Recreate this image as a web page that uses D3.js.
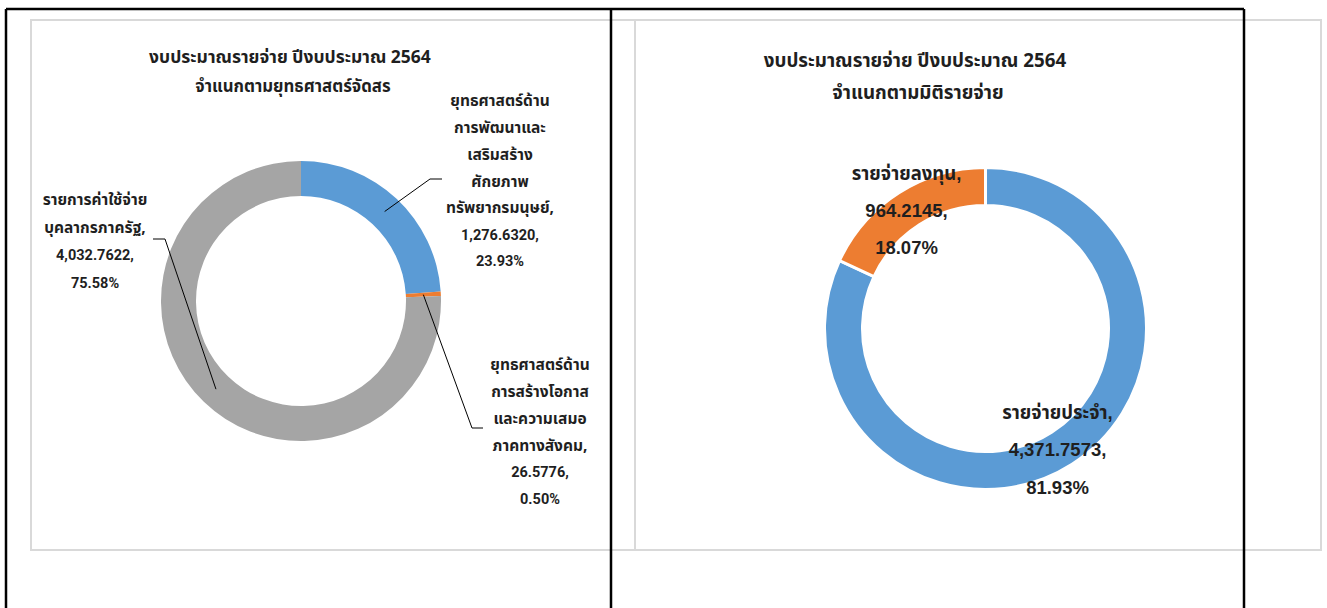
<!DOCTYPE html>
<html>
<head>
<meta charset="utf-8">
<script src="https://cdn.jsdelivr.net/npm/d3@7"></script>
<style>
  body { margin: 0; background: #fff; }
  svg { display: block; }
  text { font-weight: bold; fill: #1f1f1f; }
</style>
</head>
<body>
<div id="chart"></div>
<script>
// ข้อมูล: จำแนกตามยุทธศาสตร์จัดสรร
const strategyNames = [
  "ยุทธศาสตร์ด้านการพัฒนาและเสริมสร้างศักยภาพทรัพยากรมนุษย์",
  "ยุทธศาสตร์ด้านการสร้างโอกาสและความเสมอภาคทางสังคม",
  "รายการค่าใช้จ่ายบุคลากรภาครัฐ"
];
const strategyValues = [1276.6320, 26.5776, 4032.7622];
const strategyLabelLines = [
  ["ยุทธศาสตร์ด้าน", "การพัฒนาและ", "เสริมสร้าง", "ศักยภาพ", "ทรัพยากรมนุษย์,"],
  ["ยุทธศาสตร์ด้าน", "การสร้างโอกาส", "และความเสมอ", "ภาคทางสังคม,"],
  ["รายการค่าใช้จ่าย", "บุคลากรภาครัฐ,"]
];

// ข้อมูล: จำแนกตามมิติรายจ่าย
const dimensionNames = ["รายจ่ายประจำ", "รายจ่ายลงทุน"];
const dimensionValues = [4371.7573, 964.2145];

const titleLine1 = "งบประมาณรายจ่าย ปีงบประมาณ 2564";
const leftTitle2 = "จำแนกตามยุทธศาสตร์จัดสร";
const rightTitle2 = "จำแนกตามมิติรายจ่าย";

const colors = ["#5B9BD5", "#ED7D31", "#A5A5A5"];
const thaiFont = "Tahoma, 'Leelawadee UI', 'Noto Sans Thai', 'Noto Sans Thai UI', Garuda, Loma, 'Noto Sans', sans-serif";
const numFont = "Roboto, " + thaiFont;

const width = 1327, height = 608;
const svg = d3.select("#chart").append("svg")
  .attr("width", width)
  .attr("height", height);

// กรอบของแผนภูมิ
svg.append("rect").attr("x", 31).attr("y", 20).attr("width", 604).attr("height", 530)
  .attr("fill", "#fff").attr("stroke", "#d9d9d9").attr("stroke-width", 2);
svg.append("rect").attr("x", 635).attr("y", 20).attr("width", 686).attr("height", 530)
  .attr("fill", "#fff").attr("stroke", "#d9d9d9").attr("stroke-width", 2);

const fmtNum = d3.format(",.4f");
const fmtPct = d3.format(".2%");
const pie = d3.pie().sort(null).value(d => d);

// ----- แผนภูมิซ้าย -----
const L = svg.append("g").attr("transform", "translate(301,301)");
const lOuter = 140, lInner = 105;
const lArc = d3.arc().innerRadius(lInner).outerRadius(lOuter);
const lMid = d3.arc().innerRadius((lInner + lOuter) / 2).outerRadius((lInner + lOuter) / 2);
const lTotal = d3.sum(strategyValues);
const lPie = pie(strategyValues);

L.selectAll("path.slice")
  .data(lPie)
  .join("path")
  .attr("class", "slice")
  .attr("d", lArc)
  .attr("fill", (d, i) => colors[i]);

// ตำแหน่งป้ายกำกับ (เทียบกับจุดศูนย์กลาง)
const lLabelPos = [
  { x: 199, y: -200, lh: 26.7, elbow: [129, -122], end: [141, -122] },
  { x: 239, y: 64, lh: 26.7, elbow: [171, 127], end: [182, 127] },
  { x: -206, y: -101, lh: 27.5, elbow: [-136, -62], end: [-148, -62] }
];

lPie.forEach((d, i) => {
  const p = lLabelPos[i];
  const c = lMid.centroid(d);
  L.append("polyline")
    .attr("points", [c, p.elbow, p.end].map(q => q.join(",")).join(" "))
    .attr("fill", "none")
    .attr("stroke", "#000")
    .attr("stroke-width", 1);
  const thai = strategyLabelLines[i];
  const nums = [fmtNum(d.value) + ",", fmtPct(d.value / lTotal)];
  const t = L.append("text").attr("text-anchor", "middle");
  thai.concat(nums).forEach((s, k) => {
    t.append("tspan")
      .attr("x", p.x)
      .attr("y", p.y + k * p.lh)
      .attr("dy", "0.35em")
      .style("font-family", k < thai.length ? thaiFont : numFont)
      .style("font-size", k < thai.length ? "15.5px" : "14.5px")
      .text(s);
  });
});

svg.append("text")
  .attr("x", 290).attr("y", 57).attr("dy", "0.35em")
  .attr("text-anchor", "middle")
  .style("font-family", thaiFont).style("font-size", "17.5px")
  .text(titleLine1);
svg.append("text")
  .attr("x", 293).attr("y", 86).attr("dy", "0.35em")
  .attr("text-anchor", "middle")
  .style("font-family", thaiFont).style("font-size", "16.8px")
  .text(leftTitle2);

// ----- แผนภูมิขวา -----
const R = svg.append("g").attr("transform", "translate(985.5,328.5)");
const rOuter = 161, rInner = 123;
const rArc = d3.arc().innerRadius(rInner).outerRadius(rOuter);
const rTotal = d3.sum(dimensionValues);
const rPie = pie(dimensionValues);

R.selectAll("path.slice")
  .data(rPie)
  .join("path")
  .attr("class", "slice")
  .attr("d", rArc)
  .attr("fill", (d, i) => colors[i])
  .attr("stroke", "#fff")
  .attr("stroke-width", 3);

const rLabelPos = [
  { x: 72, y: 84, lh: 37.5 },
  { x: -79, y: -155, lh: 37 }
];

rPie.forEach((d, i) => {
  const p = rLabelPos[i];
  const lines = [dimensionNames[i] + ",", fmtNum(d.value) + ",", fmtPct(d.value / rTotal)];
  const t = R.append("text")
    .attr("text-anchor", "middle")
    .style("font-family", "'Liberation Sans', Arial, " + thaiFont)
    .style("font-size", "18.5px");
  lines.forEach((s, k) => {
    t.append("tspan")
      .attr("x", p.x)
      .attr("y", p.y + k * p.lh)
      .attr("dy", "0.35em")
      .text(s);
  });
});

svg.append("text")
  .attr("x", 915).attr("y", 60).attr("dy", "0.35em")
  .attr("text-anchor", "middle")
  .style("font-family", thaiFont).style("font-size", "18.8px")
  .text(titleLine1);
svg.append("text")
  .attr("x", 918).attr("y", 92).attr("dy", "0.35em")
  .attr("text-anchor", "middle")
  .style("font-family", thaiFont).style("font-size", "18.8px")
  .text(rightTitle2);

// เส้นตารางสีดำ
const black = [
  [6, 9, 1244, 9],
  [6, 9, 6, 608],
  [611, 9, 611, 608],
  [1244, 9, 1244, 608]
];
svg.selectAll("line.grid")
  .data(black)
  .join("line")
  .attr("class", "grid")
  .attr("x1", d => d[0]).attr("y1", d => d[1])
  .attr("x2", d => d[2]).attr("y2", d => d[3])
  .attr("stroke", "#000")
  .attr("stroke-width", 2.5);
</script>
</body>
</html>
